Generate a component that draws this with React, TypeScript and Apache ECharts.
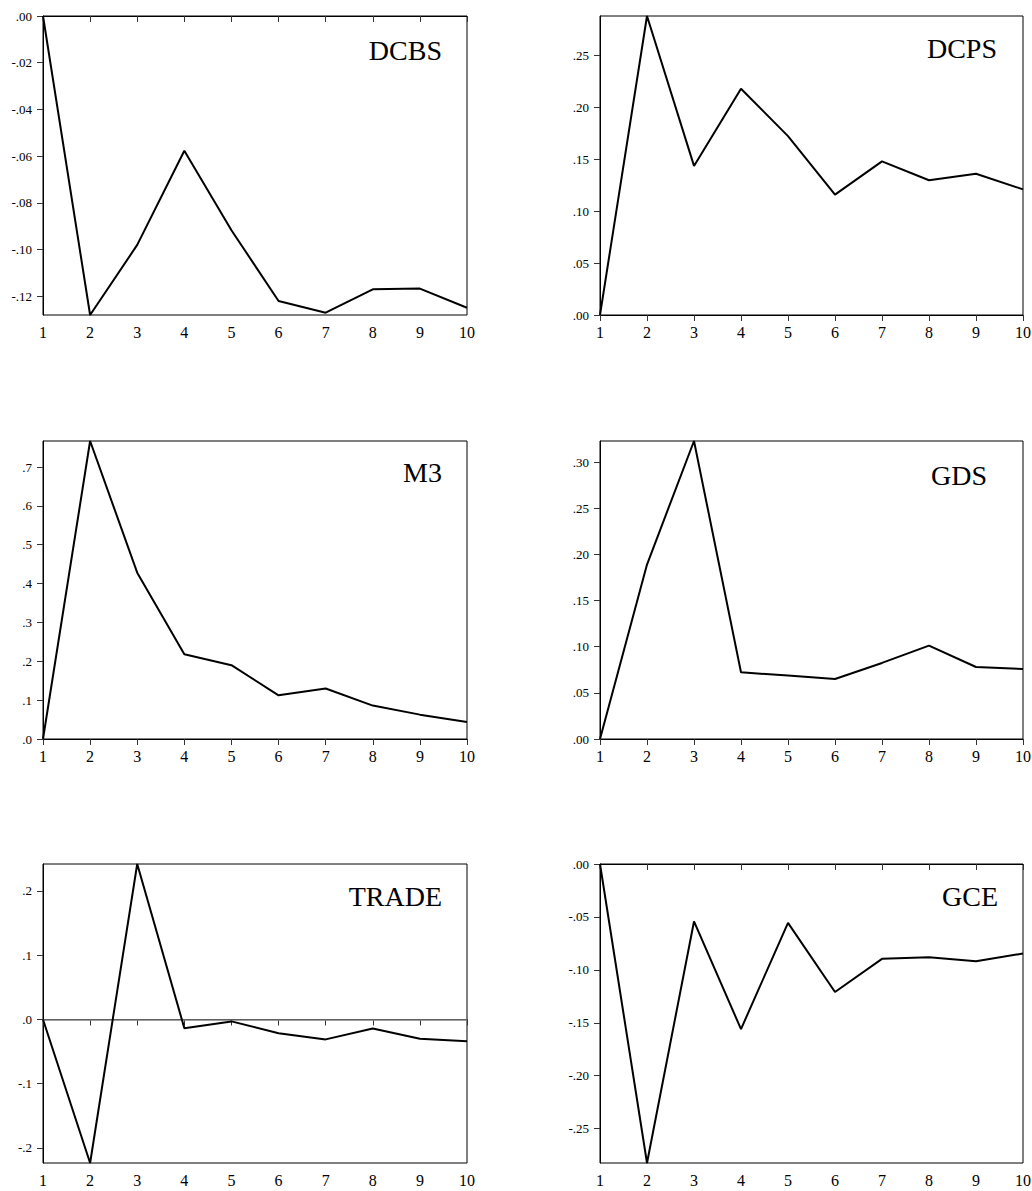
import React, { useEffect, useRef } from "react";
import * as echarts from "echarts";

const steps = ["1", "2", "3", "4", "5", "6", "7", "8", "9", "10"];

const dcbs = [0, -0.128, -0.098, -0.0577, -0.0917, -0.122, -0.127, -0.117, -0.1167, -0.1249];
const dcps = [0, 0.288, 0.1436, 0.218, 0.1723, 0.116, 0.148, 0.1298, 0.136, 0.121];
const m3 = [0, 0.767, 0.428, 0.218, 0.19, 0.1125, 0.13, 0.086, 0.0627, 0.0438];
const gds = [0, 0.189, 0.3228, 0.0723, 0.0687, 0.065, 0.0824, 0.1012, 0.078, 0.0759];
const trade = [0, -0.2234, 0.242, -0.0135, -0.003, -0.0213, -0.031, -0.014, -0.03, -0.0338];
const gce = [0, -0.2825, -0.0543, -0.156, -0.0556, -0.1209, -0.0896, -0.088, -0.0918, -0.0846];

const dcbsTicks = [0, -0.02, -0.04, -0.06, -0.08, -0.1, -0.12];
const dcpsTicks = [0, 0.05, 0.1, 0.15, 0.2, 0.25];
const m3Ticks = [0, 0.1, 0.2, 0.3, 0.4, 0.5, 0.6, 0.7];
const gdsTicks = [0, 0.05, 0.1, 0.15, 0.2, 0.25, 0.3];
const tradeTicks = [-0.2, -0.1, 0, 0.1, 0.2];
const gceTicks = [0, -0.05, -0.1, -0.15, -0.2, -0.25];

const names = ["DCBS", "DCPS", "M3", "GDS", "TRADE", "GCE"];

const SERIF = "Liberation Serif";

const panels = [
  { name: names[0], data: dcbs, ticks: dcbsTicks, dec: 2, zero: false },
  { name: names[1], data: dcps, ticks: dcpsTicks, dec: 2, zero: false },
  { name: names[2], data: m3, ticks: m3Ticks, dec: 1, zero: false },
  { name: names[3], data: gds, ticks: gdsTicks, dec: 2, zero: false },
  { name: names[4], data: trade, ticks: tradeTicks, dec: 1, zero: true },
  { name: names[5], data: gce, ticks: gceTicks, dec: 2, zero: false },
];

const layout = [
  { left: 43, top: 16, width: 424, height: 299, tx: 442, ty: 50 },
  { left: 600, top: 16, width: 423, height: 299, tx: 997, ty: 48 },
  { left: 43, top: 441, width: 424, height: 298, tx: 442, ty: 472 },
  { left: 600, top: 441, width: 423, height: 298, tx: 987, ty: 475 },
  { left: 43, top: 864, width: 424, height: 299, tx: 442, ty: 896 },
  { left: 600, top: 864, width: 423, height: 299, tx: 998, ty: 896 },
];

function fmt(v: number, dec: number): string {
  const s = v.toFixed(dec);
  return s.replace("0.", ".");
}

export default function App() {
  const ref = useRef<HTMLDivElement>(null);
  useEffect(() => {
    if (!ref.current) return;
    const chart = echarts.init(ref.current, undefined, { renderer: "svg" });
    const grid: any[] = [];
    const xAxis: any[] = [];
    const yAxis: any[] = [];
    const series: any[] = [];
    const graphic: any[] = [];
    panels.forEach((p, i) => {
      const L = layout[i];
      grid.push({
        left: L.left,
        top: L.top,
        width: L.width,
        height: L.height,
        show: true,
        borderColor: "#000",
        borderWidth: 1,
        backgroundColor: "transparent",
        containLabel: false,
        outerBoundsMode: "none",
      });
      xAxis.push({
        type: "category",
        gridIndex: i,
        data: steps,
        boundaryGap: false,
        axisLine: { show: true, lineStyle: { color: "#000", width: 1 } },
        axisTick: { show: true, length: 6, inside: false, alignWithLabel: true, lineStyle: { color: "#333" } },
        axisLabel: {
          show: true,
          margin: 9,
          interval: 0,
          color: "#000",
          fontFamily: SERIF,
          fontSize: 16,
          hideOverlap: false,
          formatter: (v: string) => "{a|" + v + "}",
          rich: { a: { fontFamily: SERIF, fontSize: 16, color: "#000" } },
        },
        splitLine: { show: false },
      });
      yAxis.push({
        type: "value",
        gridIndex: i,
        min: "dataMin",
        max: "dataMax",
        axisLine: { show: true, onZero: false, lineStyle: { color: "#000", width: 1 } },
        axisTick: { show: true, length: 6, lineStyle: { color: "#333" }, customValues: p.ticks },
        axisLabel: {
          show: true,
          margin: 11,
          color: "#000",
          fontFamily: SERIF,
          fontSize: 13,
          hideOverlap: false,
          customValues: p.ticks,
          formatter: (v: number) => "{a|" + fmt(v, p.dec) + "}",
          rich: { a: { fontFamily: SERIF, fontSize: 13, color: "#000" } },
        },
        splitLine: { show: false },
      });
      const s: any = {
        type: "line",
        name: p.name,
        xAxisIndex: i,
        yAxisIndex: i,
        data: p.data,
        showSymbol: false,
        symbol: "none",
        lineStyle: { color: "#000", width: 2 },
        silent: true,
      };
      if (p.zero) {
        s.markLine = {
          silent: true,
          symbol: "none",
          label: { show: false },
          lineStyle: { color: "#808080", width: 1.5, type: "solid" },
          data: [{ yAxis: 0 }],
          z: 1,
        };
      }
      series.push(s);
      graphic.push({
        type: "text",
        x: L.tx,
        y: L.ty,
        style: {
          text: p.name,
          fontFamily: SERIF,
          fontSize: 28,
          fill: "#000",
          align: "right",
          verticalAlign: "middle",
        },
      });
    });
    chart.setOption({
      animation: false,
      backgroundColor: "#fff",
      grid,
      xAxis,
      yAxis,
      series,
      graphic,
    });
    return () => chart.dispose();
  }, []);
  return (
    <div
      ref={ref}
      style={{ position: "absolute", left: 0, top: 0, width: 1032, height: 1191 }}
    />
  );
}
